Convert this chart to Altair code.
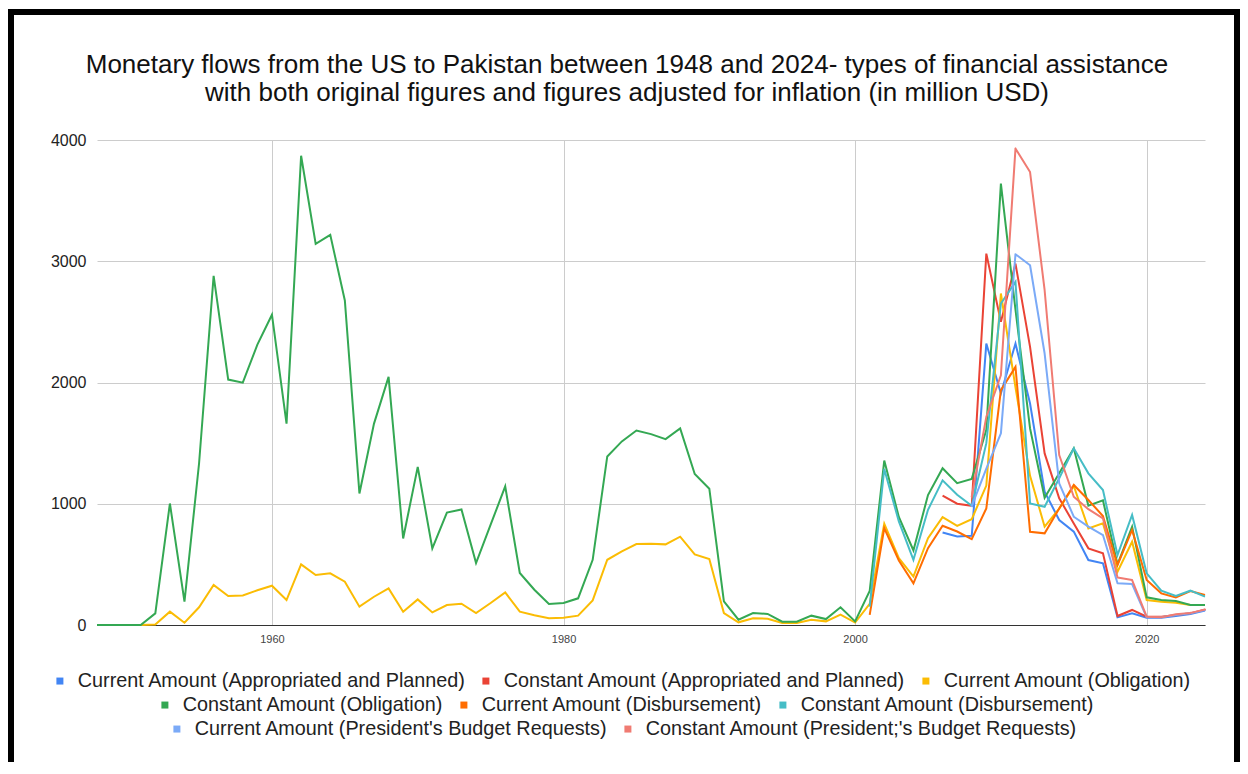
import altair as alt
import pandas as pd

# ---------------- data (million USD) ----------------
years = list(range(1948, 2025))

current_obligation = [
    0, 0, 0, 0, 5, 110, 19, 146, 330, 239,          # 1948-1957
    244, 286, 324, 206, 500, 412, 426, 357, 151, 233,  # 1958-1967
    302, 110, 211, 104, 165, 176, 99, 181, 269, 110,   # 1968-1977
    80, 55, 60, 77, 203, 538, 607, 668, 670, 665,      # 1978-1987
    728, 582, 544, 99, 22, 55, 52, 16, 16, 44,         # 1988-1997
    30, 85, 20, 174, 835, 551, 399, 716, 890, 818,     # 1998-2007
    873, 1150, 2734, 1960, 1230, 811, 960, 1146, 797, 838,  # 2008-2017
    440, 687, 206, 192, 184, 165, 165,                 # 2018-2024
]

constant_obligation = [
    0, 0, 0, 0, 96, 1002, 192, 1332, 2880, 2024,
    1999, 2312, 2559, 1661, 3870, 3144, 3218, 2677, 1085, 1661,
    2046, 714, 1304, 632, 927, 953, 511, 827, 1143, 429,
    291, 173, 181, 220, 538, 1390, 1514, 1604, 1574, 1533,
    1621, 1245, 1124, 195, 44, 99, 91, 27, 27, 77,
    49, 146, 30, 280, 1356, 891, 615, 1072, 1293, 1170,
    1205, 1610, 3640, 2600, 1621, 1050, 1251, 1457, 985, 1028,
    500, 811, 228, 206, 198, 165, 165,
]

disb_years = list(range(2001, 2025))
current_disbursement = [
    83, 799, 532, 344, 634, 818, 771, 708, 962, 1937,
    2129, 769, 756, 960, 1155, 1031, 899, 495, 784, 371,
    261, 228, 280, 247,
]
constant_disbursement = [
    152, 1287, 854, 537, 950, 1193, 1074, 983, 1500, 2651,
    2830, 1003, 975, 1210, 1457, 1251, 1113, 577, 907, 426,
    283, 239, 283, 234,
]

appr_years = list(range(2006, 2025))
current_appropriated = [
    763, 730, 736, 2321, 1909, 2321, 1827, 1099, 866, 770,
    536, 509, 63, 96, 60, 60, 75, 90, 120,
]
constant_appropriated = [
    1066, 1000, 983, 3063, 2500, 2981, 2294, 1415, 1045, 838,
    632, 591, 74, 124, 69, 69, 82, 96, 129,
]

pbr_years = list(range(2008, 2025))
current_pbr = [
    980, 1290, 1580, 3058, 2967, 2239, 1168, 893, 811, 742,
    344, 338, 63, 63, 82, 96, 124,
]
constant_pbr = [
    1058, 1717, 2060, 3929, 3736, 2761, 1402, 1058, 955, 880,
    392, 371, 69, 63, 89, 100, 127,
]

series_names = [
    "Current Amount (Appropriated and Planned)",
    "Constant Amount (Appropriated and Planned)",
    "Current Amount (Obligation)",
    "Constant Amount (Obligation)",
    "Current Amount (Disbursement)",
    "Constant Amount (Disbursement)",
    "Current Amount (President's Budget Requests)",
    "Constant Amount (President;'s Budget Requests)",
]
series_colors = ["#4285F4", "#EA4335", "#FBBC04", "#34A853",
                 "#FF6D01", "#46BDC6", "#7BAAF7", "#F07B72"]

x_ticks = [1960, 1980, 2000, 2020]
y_ticks = [0, 1000, 2000, 3000, 4000]

title_lines = [
    "Monetary flows from the US to Pakistan between 1948 and 2024- types of financial assistance",
    "with both original figures and figures adjusted for inflation (in million USD)",
]


def long_table(parts):
    frames = []
    for name, yrs, vals in parts:
        frames.append(pd.DataFrame({"year": yrs, "value": vals, "series": name}))
    return pd.concat(frames, ignore_index=True)


df_a = long_table([
    (series_names[0], appr_years, current_appropriated),
    (series_names[1], appr_years, constant_appropriated),
    (series_names[2], years, current_obligation),
])
df_b = long_table([
    (series_names[3], years, constant_obligation),
    (series_names[4], disb_years, current_disbursement),
    (series_names[5], disb_years, constant_disbursement),
])
df_c = long_table([
    (series_names[6], pbr_years, current_pbr),
    (series_names[7], pbr_years, constant_pbr),
])

FONT = "Liberation Sans, Arial, sans-serif"

x_enc = alt.X(
    "year:Q",
    scale=alt.Scale(domain=[1948, 2024], nice=False, zero=False),
    axis=alt.Axis(
        values=x_ticks, format="d", title=None, grid=True, ticks=False,
        labelPadding=8, labelFontSize=11, labelFont=FONT, labelColor="#444444",
        domainColor="#333333", domainWidth=1.2, gridColor="#cccccc",
        labelFlush=False,
    ),
)
y_enc = alt.Y(
    "value:Q",
    scale=alt.Scale(domain=[0, 4000], nice=False),
    axis=alt.Axis(
        values=y_ticks, format="d", title=None, grid=True, ticks=False,
        domain=False, labelPadding=11, labelFontSize=16, labelFont=FONT,
        labelColor="#222222", gridColor="#cccccc",
    ),
)


def legend(x, y, filled):
    common = dict(
        orient="none", legendX=x, legendY=y, direction="horizontal", title=None,
        symbolType="square", labelFontSize=19.8, labelFont=FONT,
        labelColor="#222222", labelOffset=8, columnPadding=10,
        labelLimit=1000, padding=0,
    )
    if filled:
        return alt.Legend(symbolSize=49, symbolStrokeWidth=0, **common)
    return alt.Legend(symbolSize=9, symbolStrokeWidth=4, **common)


layer_a = alt.Chart(df_a).mark_line(strokeWidth=2).encode(
    x=x_enc, y=y_enc,
    color=alt.Color(
        "series:N",
        scale=alt.Scale(domain=series_names[0:3], range=series_colors[0:3]),
        legend=legend(-47, 531, False),
    ),
)
layer_b = alt.Chart(df_b).mark_line(strokeWidth=2).encode(
    x=x_enc, y=y_enc,
    stroke=alt.Stroke(
        "series:N",
        scale=alt.Scale(domain=series_names[3:6], range=series_colors[3:6]),
        legend=legend(58, 555, False),
    ),
)
layer_c = alt.Chart(df_c).mark_trail(opacity=1).encode(
    x=x_enc, y=y_enc,
    size=alt.value(2),
    fill=alt.Fill(
        "series:N",
        scale=alt.Scale(domain=series_names[6:8], range=series_colors[6:8]),
        legend=legend(70, 579, True),
    ),
)

frame = alt.Chart(pd.DataFrame({"frame": [1]})).mark_rect(
    filled=False, stroke="#000000", strokeWidth=6
).encode(
    x=alt.value(-86), x2=alt.value(1140), y=alt.value(-128), y2=alt.value(700)
)

chart = alt.layer(layer_a, layer_b, layer_c, frame).resolve_legend(
    color="independent", stroke="independent", fill="independent"
).properties(
    width=1108,
    height=485,
    autosize=alt.AutoSizeParams(type="none"),
    padding={"left": 89, "top": 132, "right": 35, "bottom": 137},
    background="#ffffff",
    title=alt.Title(
        text=title_lines, fontSize=26, font=FONT, fontWeight="normal",
        color="#111111", anchor="middle", frame="group", dx=-24,
        offset=0, dy=97, lineHeight=28.5,
    ),
).configure_view(strokeWidth=0)

chart.save("out.html", embed_options={"renderer": "svg", "actions": False})
